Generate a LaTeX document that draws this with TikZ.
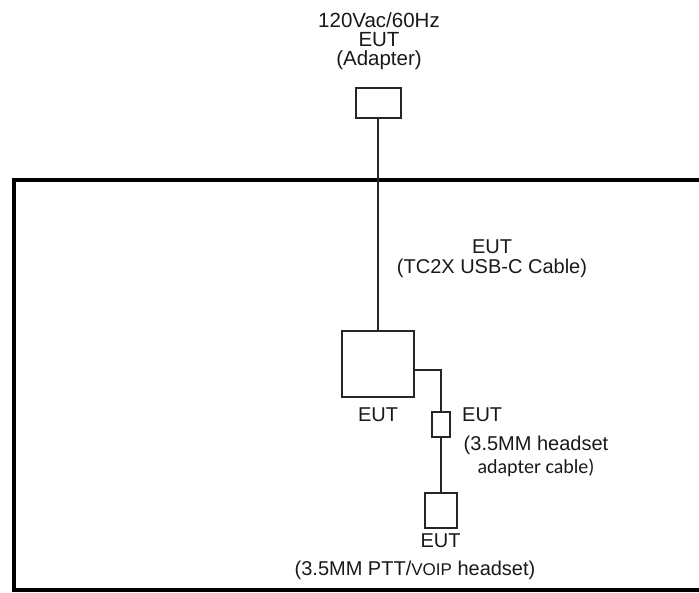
\documentclass[tikz,border=0pt]{standalone}
\usepackage{fontspec}
\setmainfont{Liberation Sans}
\newfontfamily\calibfont{Carlito}
\usetikzlibrary{positioning}

\begin{document}
\begin{tikzpicture}[
  x=1pt, y=-1pt,
  unit/.style  = {draw=black!85, line width=2pt, inner sep=0pt},
  wire/.style  = {draw=black!85, line width=2pt},
  frame/.style = {draw=black, line width=3.5pt},
  lbl/.style   = {font=\fontsize{20}{19.5}\selectfont, text=black!90, inner sep=0pt},
]
  \useasboundingbox (0,0) rectangle (699,593);

  % test area
  \draw[frame] (14,180) rectangle (720,590);

  % equipment
  \node[unit, minimum width=45pt, minimum height=30pt] (adapter) at (378,103)   {};
  \node[unit, minimum width=72pt, minimum height=66pt] (tc)      at (378,364)   {};
  \node[unit, minimum width=18pt, minimum height=25pt] (adp)     at (440.5,424.5) {};
  \node[unit, minimum width=32pt, minimum height=35pt] (hs)      at (440.5,510.5) {};

  % cables
  \draw[wire] (adapter) -- (tc);
  \draw[wire] ([yshift=-6pt]tc.east) -| (adp);
  \draw[wire] (adp) -- (hs);

  % labels
  \node[lbl, anchor=north, align=center, font=\fontsize{20.5}{19}\selectfont] (adapterlbl) at (379,12)
    {120Vac/60Hz\\EUT\\(Adapter)};
  \node[lbl, anchor=north, align=center] (tclbl) at (492,240) {EUT\\(TC2X USB-C Cable)};
  \node[lbl, below=10pt of tc] (tceut) {EUT};
  \node[lbl, anchor=base west] (adpeut) at (462,422) {EUT};
  \node[lbl, anchor=base] (adplbla) at (536,451) {(3.5MM headset};
  \node[lbl, anchor=base, font=\calibfont\fontsize{20}{20}\selectfont] (adplblb) at (536,473) {adapter cable)};
  \node[lbl, below=5pt of hs] (hseut) {EUT};
  \node[lbl, anchor=base] (hslbl) at (415,575)
    {(3.5MM PTT/{\fontsize{17}{17}\selectfont VOIP} headset)};
\end{tikzpicture}
\end{document}
